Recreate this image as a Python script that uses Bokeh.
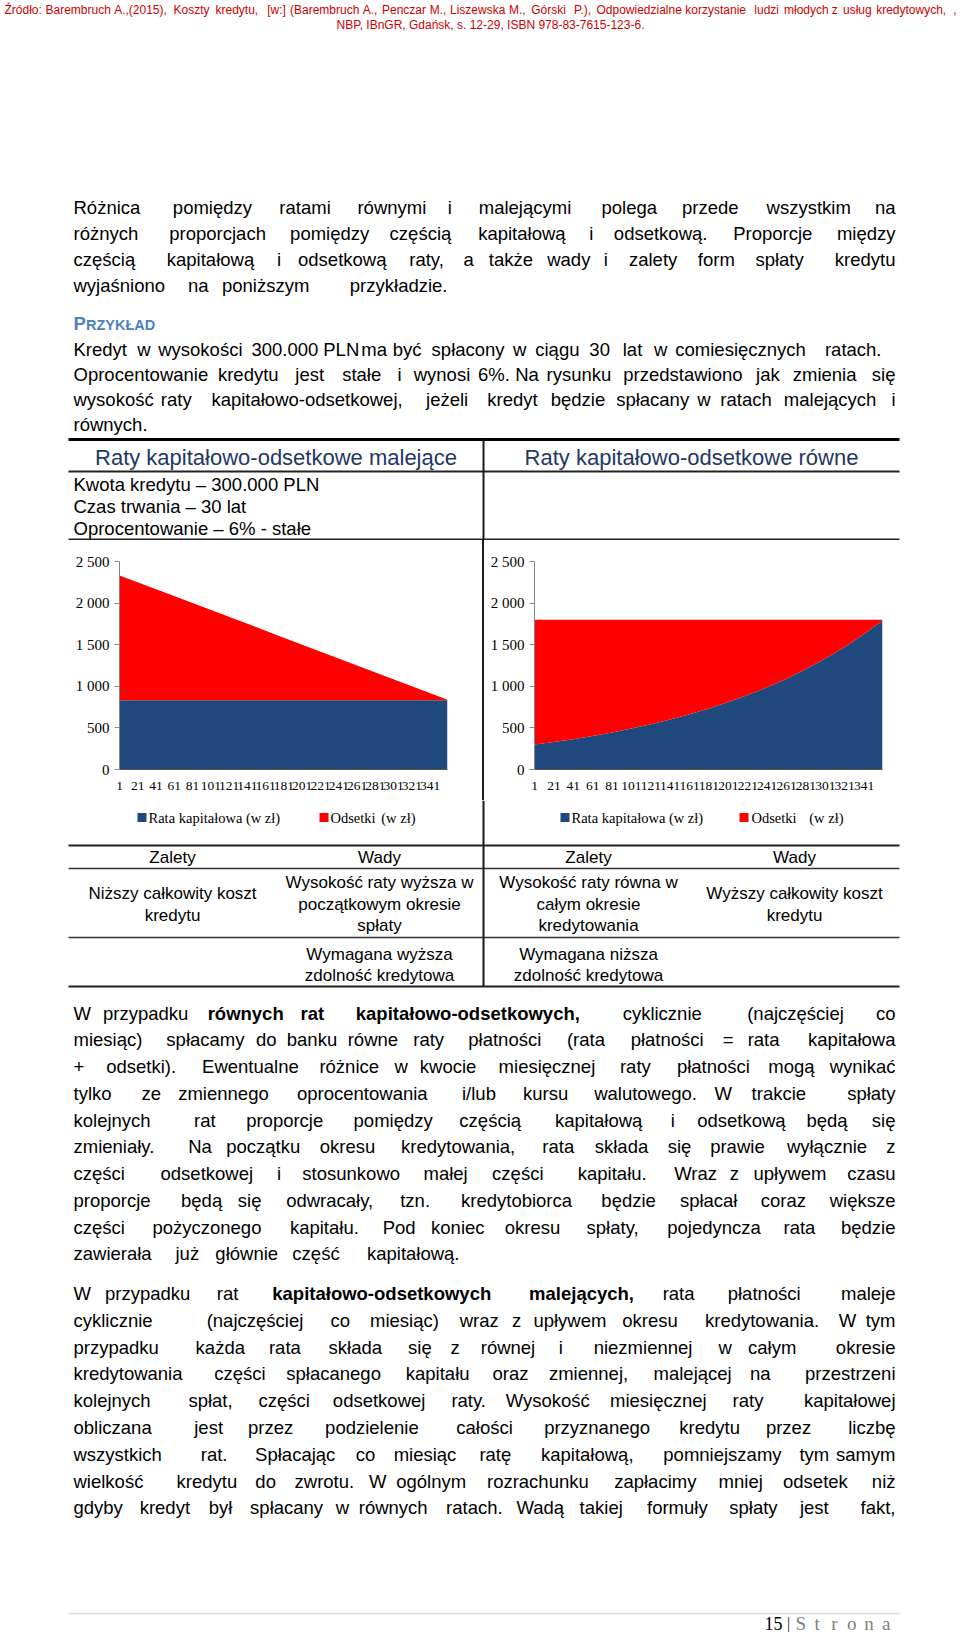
from bokeh.plotting import figure
from bokeh.models import ColumnDataSource, Range1d, FixedTicker, Div
from bokeh.layouts import column, row
from bokeh.embed import file_html
from bokeh.resources import INLINE
from bokeh.core.properties import field

# ---------------- chart data ----------------
x_ticks = [1, 21, 41, 61, 81, 101, 121, 141, 161, 181, 201, 221, 241, 261, 281, 301, 321, 341]
y_ticks = [0, 500, 1000, 1500, 2000, 2500]
y_tick_labels = ["0", "500", "1 000", "1 500", "2 000", "2 500"]

# malejące (decreasing instalments)
months_dec = [1, 60, 120, 180, 240, 300, 360]
kap_dec = [833, 833, 833, 833, 833, 833, 833]
ods_dec = [1500, 1255, 1005, 755, 505, 255, 5]

# równe (equal instalments)
months_eq = [1, 21, 41, 61, 81, 101, 121, 141, 161, 181, 201, 221, 241, 261, 281, 301, 321, 341, 360]
kap_eq = [300, 330, 365, 403, 445, 492, 543, 600, 663, 733, 810, 895, 989, 1092, 1207, 1333, 1473, 1628, 1792]
ods_eq = [1499, 1469, 1434, 1396, 1354, 1307, 1256, 1199, 1136, 1066, 989, 904, 810, 707, 592, 466, 326, 171, 7]

series_names = ["Rata kapitałowa (w zł)", "Odsetki", "(w zł)"]
series_colors = ["#1F497D", "#FF0000"]
chart_titles = ["Raty kapitałowo-odsetkowe malejące", "Raty kapitałowo-odsetkowe równe"]
chart_params = ["Kwota kredytu – 300.000 PLN", "Czas trwania – 30 lat", "Oprocentowanie – 6% - stałe"]

SANS = "Liberation Sans"
SERIF = "Liberation Serif"

# ---------------- page text ----------------
header_l1 = ("Źródło: Barembruch A.,(2015), Koszty kredytu, [w:] (Barembruch A., Penczar M., Liszewska M., "
             "Górski P.), Odpowiedzialne korzystanie ludzi młodych z usług kredytowych, ,")
header_l2 = "NBP, IBnGR, Gdańsk, s. 12-29, ISBN 978-83-7615-123-6."

# (line, right end of the line in page px or None for full justification)
para1 = [
    ("Różnica pomiędzy ratami równymi i malejącymi polega przede wszystkim na", None),
    ("różnych proporcjach pomiędzy częścią kapitałową i odsetkową. Proporcje między", None),
    ("częścią kapitałową i odsetkową raty, a także wady i zalety form spłaty kredytu", None),
    ("wyjaśniono na poniższym przykładzie.", 447),
]
para_ex = [
    ("Kredyt w wysokości 300.000 PLN ma być spłacony w ciągu 30 lat w comiesięcznych ratach.", 881),
    ("Oprocentowanie kredytu jest stałe i wynosi 6%. Na rysunku przedstawiono jak zmienia się", None),
    ("wysokość raty kapitałowo-odsetkowej, jeżeli kredyt będzie spłacany w ratach malejących i", None),
    ("równych.", 0),
]
para2 = [
    ("W przypadku **równych rat kapitałowo-odsetkowych,** cyklicznie (najczęściej co", None),
    ("miesiąc) spłacamy do banku równe raty płatności (rata płatności = rata kapitałowa", None),
    ("+ odsetki). Ewentualne różnice w kwocie miesięcznej raty płatności mogą wynikać", None),
    ("tylko ze zmiennego oprocentowania i/lub kursu walutowego. W trakcie spłaty", None),
    ("kolejnych rat proporcje pomiędzy częścią kapitałową i odsetkową będą się", None),
    ("zmieniały. Na początku okresu kredytowania, rata składa się prawie wyłącznie z", None),
    ("części odsetkowej i stosunkowo małej części kapitału. Wraz z upływem czasu", None),
    ("proporcje będą się odwracały, tzn. kredytobiorca będzie spłacał coraz większe", None),
    ("części pożyczonego kapitału. Pod koniec okresu spłaty, pojedyncza rata będzie", None),
    ("zawierała już głównie część kapitałową.", 459),
]
para3 = [
    ("W przypadku rat **kapitałowo-odsetkowych malejących**, rata płatności maleje", None),
    ("cyklicznie (najczęściej co miesiąc) wraz z upływem okresu kredytowania. W tym", None),
    ("przypadku każda rata składa się z równej i niezmiennej w całym okresie", None),
    ("kredytowania części spłacanego kapitału oraz zmiennej, malejącej na przestrzeni", None),
    ("kolejnych spłat, części odsetkowej raty. Wysokość miesięcznej raty kapitałowej", None),
    ("obliczana jest przez podzielenie całości przyznanego kredytu przez liczbę", None),
    ("wszystkich rat. Spłacając co miesiąc ratę kapitałową, pomniejszamy tym samym", None),
    ("wielkość kredytu do zwrotu. W ogólnym rozrachunku zapłacimy mniej odsetek niż", None),
    ("gdyby kredyt był spłacany w równych ratach. Wadą takiej formuły spłaty jest fakt,", None),
]
table_cols = ["Zalety", "Wady", "Zalety", "Wady"]
table_row1 = [["Niższy całkowity koszt", "kredytu"],
              ["Wysokość raty wyższa w", "początkowym okresie", "spłaty"],
              ["Wysokość raty równa w", "całym okresie", "kredytowania"],
              ["Wyższy całkowity koszt", "kredytu"]]
table_row2 = [[], ["Wymagana wyższa", "zdolność kredytowa"], ["Wymagana niższa", "zdolność kredytowa"], []]

# ---------------- layout constants (page pixels) ----------------
PAGE_W = 960
L, R = 73, 895
TL, TR, TMID = 68, 899, 483
COLC = [172, 379, 588, 794]
BODY = "18.5px"
ROW_TOP, ROW_BOT = 540, 800


def new_texts():
    return dict(x=[], y=[], text=[], size=[], color=[], style=[], align=[], font=[])


def add(T, x, y, s, size, color="#000000", style="normal", align="left", font=SANS):
    T["x"].append(x); T["y"].append(y); T["text"].append(s); T["size"].append(size)
    T["color"].append(color); T["style"].append(style); T["align"].append(align); T["font"].append(font)


def parse(line):
    words, bold = [], False
    for tok in line.split():
        if tok.startswith("**"):
            bold = True
            tok = tok[2:]
        end = "**" in tok
        tok = tok.replace("**", "")
        words.append((tok, bold))
        if end:
            bold = False
    return words


def add_words(T, line, x0, x1, y, size, color="#000000", font=SANS):
    words = parse(line)
    if len(words) == 1:
        w, b = words[0]
        add(T, x0, y, w, size, color, "bold" if b else "normal", "left", font)
        return
    total = sum(len(w) for w, _ in words) + len(words) - 1
    c, n = 0, len(words)
    for i, (w, b) in enumerate(words):
        st = "bold" if b else "normal"
        if i == 0:
            add(T, x0, y, w, size, color, st, "left", font)
        elif i == n - 1:
            add(T, x1, y, w, size, color, st, "right", font)
        else:
            add(T, x0 + (c + len(w) / 2) / total * (x1 - x0), y, w, size, color, st, "center", font)
        c += len(w) + 1


def add_para(T, lines, y0, dy, size=BODY):
    for i, (ln, end) in enumerate(lines):
        add_words(T, ln, L, R if end is None else end, y0 + i * dy, size)


def page_fig(y0, y1):
    p = figure(width=PAGE_W, height=y1 - y0, x_range=Range1d(0, PAGE_W), y_range=Range1d(y1, y0),
               output_backend="svg", toolbar_location=None, min_border=0,
               x_axis_type=None, y_axis_type=None, sizing_mode="fixed")
    p.outline_line_color = None
    return p


def draw_texts(p, T):
    src = ColumnDataSource(T)
    p.text(x="x", y="y", text="text", source=src, text_font=field("font"),
           text_font_size=field("size"), text_color=field("color"),
           text_font_style=field("style"), text_align=field("align"),
           text_baseline="middle")


# ================= TOP PAGE FIGURE (page y 0..540) =================
top = page_fig(0, ROW_TOP)
T = new_texts()
add_words(T, header_l1, 4, 956, 9, "12px", "#CC0000")
add(T, 490, 24.5, header_l2, "12px", "#CC0000", "normal", "center")
add_para(T, para1, 206.5, 26)
add(T, L, 323, "P", BODY, "#4F81BD", "bold")
add(T, L + 12.5, 324, "RZYKŁAD", "14.5px", "#4F81BD", "bold")
add_para(T, para_ex, 349, 25)
add(T, (TL + TMID) / 2, 456.5, chart_titles[0], "22px", "#1F3864", "normal", "center")
add(T, (TMID + TR) / 2, 456.5, chart_titles[1], "22px", "#1F3864", "normal", "center")
for i, s in enumerate(chart_params):
    add(T, L, 484 + 21.8 * i, s, "18.5px")
draw_texts(top, T)
top.segment(x0=[TL, TL, TL, TMID], y0=[439, 471, 539, 439], x1=[TR, TR, TR, TMID], y1=[439, 471, 539, 540],
            line_color=["#000000", "#222222", "#222222", "#1A1A1A"], line_width=[3, 2, 2, 2])


# ================= CHARTS (page y 540..800) =================
def make_chart(width, mbl, mbr, months, kap, ods):
    src = ColumnDataSource(dict(month=months, kap=kap, ods=ods))
    p = figure(width=width, height=ROW_BOT - ROW_TOP, x_range=Range1d(1, 360), y_range=Range1d(0, 2500),
               output_backend="svg", toolbar_location=None, sizing_mode="fixed",
               min_border_left=mbl, min_border_right=mbr, min_border_top=21,
               min_border_bottom=ROW_BOT - 769)
    p.grid.visible = False
    p.outline_line_color = None
    p.varea_stack(["kap", "ods"], x="month", source=src, color=series_colors)
    p.yaxis.ticker = FixedTicker(ticks=y_ticks)
    p.yaxis.major_label_overrides = dict(zip(y_ticks, y_tick_labels))
    p.yaxis.major_label_text_font = SERIF
    p.yaxis.major_label_text_font_size = "15px"
    p.yaxis.major_label_text_color = "#000000"
    p.yaxis.axis_line_color = "#868686"
    p.yaxis.major_tick_line_color = "#868686"
    p.yaxis.major_tick_out = 5
    p.yaxis.major_tick_in = 0
    p.yaxis.minor_tick_line_color = None
    p.yaxis.major_label_standoff = 5
    p.xaxis.ticker = FixedTicker(ticks=x_ticks)
    p.xaxis.major_label_text_font = SERIF
    p.xaxis.major_label_text_font_size = "13.5px"
    p.xaxis.major_label_text_color = "#000000"
    p.xaxis.axis_line_color = "#5A5A5A"
    p.xaxis.major_tick_line_color = None
    p.xaxis.minor_tick_line_color = None
    p.xaxis.major_tick_out = 0
    p.xaxis.major_label_standoff = 12
    return p


left_chart = make_chart(482, 119, 35, months_dec, kap_dec, ods_dec)
divider = Div(width=2, height=ROW_BOT - ROW_TOP, margin=0, styles={"background-color": "#1A1A1A"})
right_chart = make_chart(476, 50, 78, months_eq, kap_eq, ods_eq)
chart_row = row(left_chart, divider, right_chart, spacing=0, sizing_mode="fixed")

# ================= BOTTOM PAGE FIGURE (page y 800..1632) =================
bot = page_fig(ROW_BOT, 1632)
B = new_texts()
# legends of the two charts
LEG_Y = 817
leg_sq_x = [141.5, 323.5, 564.5, 743.5]
bot.rect(x=leg_sq_x, y=[LEG_Y] * 4, width=9, height=9,
         fill_color=series_colors * 2, line_color=None)
for x_blue, x_ods, x_end in [(148, 330, 415), (571, 751, 843)]:
    add(B, x_blue, LEG_Y, series_names[0], "14.5px", align="left", font=SERIF)
    add(B, x_ods, LEG_Y, series_names[1], "14.5px", align="left", font=SERIF)
    add(B, x_end, LEG_Y, series_names[2], "14.5px", align="right", font=SERIF)
# lower table
for i, s in enumerate(table_cols):
    add(B, COLC[i], 857, s, "17px", align="center")
for i, cell in enumerate(table_row1):
    y0 = 893 if len(cell) == 2 else 882
    for j, s in enumerate(cell):
        add(B, COLC[i], y0 + 21.7 * j, s, "17px", align="center")
for i, cell in enumerate(table_row2):
    for j, s in enumerate(cell):
        add(B, COLC[i], 954 + 20.5 * j, s, "17px", align="center")
add_para(B, para2, 1012.5, 26.75)
add_para(B, para3, 1293, 26.8)
add(B, 782, 1623, "15", "18px", "#000000", "normal", "right", SERIF)
add(B, 788, 1623, "|", "18px", "#404040", "normal", "center", SERIF)
add_words(B, "S t r o n a", 795, 890, 1623, "19px", "#7F7F7F", SERIF)
draw_texts(bot, B)
bot.segment(x0=[TL, TL, TL, TL, TMID, TL], y0=[845, 868, 937, 986, ROW_BOT, 1613],
            x1=[TR, TR, TR, TR, TMID, 900], y1=[845, 868, 937, 986, 986, 1613],
            line_color=["#222222", "#333333", "#333333", "#222222", "#1A1A1A", "#D9D9D9"],
            line_width=[2, 1.5, 1.5, 2, 2, 1.5])

page = column(top, chart_row, bot, spacing=0, sizing_mode="fixed")
open("out.html", "w").write(file_html(page, INLINE))
